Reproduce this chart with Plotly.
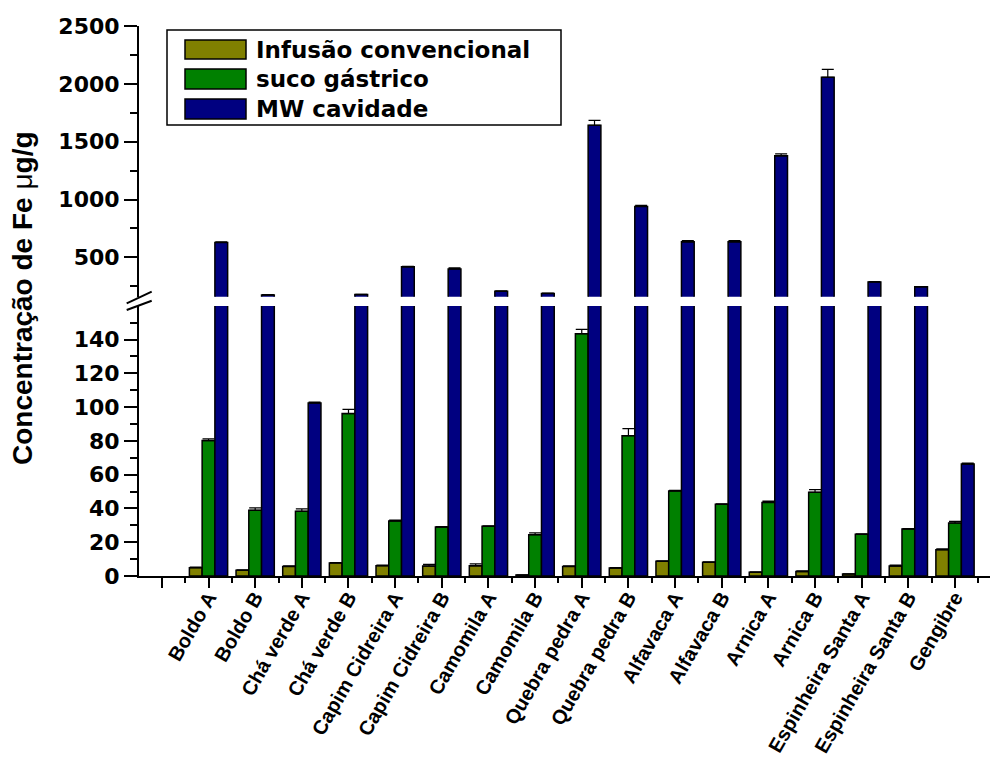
import plotly.graph_objects as go

# Iron concentration per sample, three extraction procedures
categories = ["Boldo A", "Boldo B", "Chá verde A", "Chá verde B", "Capim Cidreira A",
              "Capim Cidreira B", "Camomila A", "Camomila B", "Quebra pedra A",
              "Quebra pedra B", "Alfavaca A", "Alfavaca B", "Arnica A", "Arnica B",
              "Espinheira Santa A", "Espinheira Santa B", "Gengibre"]

infusao = [4.9, 3.4, 5.7, 7.7, 6.1, 5.9, 6.0, 0.6, 5.7, 4.7, 8.7, 8.1, 2.2, 2.6, 1.2, 5.9, 15.6]
infusao_err = [0.3, 0.3, 0.3, 0.3, 0.3, 1.0, 1.2, 0.1, 0.3, 0.3, 0.3, 0.3, 0.3, 0.5, 0.1, 0.5, 0.5]

suco = [80.2, 38.9, 38.3, 96.2, 32.6, 29.0, 29.4, 24.5, 143.5, 83.1, 50.4, 42.5, 43.6, 49.6, 24.7, 27.8, 31.4]
suco_err = [1.0, 1.5, 1.5, 2.5, 0.5, 0.3, 0.3, 1.0, 2.5, 4.2, 0.3, 0.3, 0.8, 1.5, 0.3, 0.3, 1.0]

mw = [629, 175, 102.5, 178, 418, 400, 208, 188, 1641, 940, 634, 634, 1378, 2056, 288, 245, 66.3]
mw_err = [5, 3, 0.5, 3, 5, 10, 3, 3, 43, 10, 10, 10, 17, 69, 3, 3, 0.5]

series_names = ["Infusão convencional", "suco gástrico", "MW cavidade"]
series_colors = ["#808000", "#008000", "#000080"]

positions = list(range(1, len(categories) + 1))
tick_positions = list(range(0, len(categories) + 1))
tick_text = [""] + categories

FONT = "DejaVu Sans"
LABEL_FONT = "Liberation Sans"

# plot area geometry (pixels)
W, H = 991, 758
ML, MR, MT, MB = 139, 1, 26, 182
PW, PH = W - ML - MR, H - MT - MB


def px(xp):
    return (xp - ML) / PW


def py(yp):
    return (H - MB - yp) / PH


fig = go.Figure()

all_series = [(infusao, infusao_err), (suco, suco_err), (mw, mw_err)]
for panel, (xa, ya) in enumerate([("x", "y"), ("x2", "y2")]):
    for i, (vals, errs) in enumerate(all_series):
        fig.add_trace(go.Bar(
            x=positions, y=vals, name=series_names[i],
            xaxis=xa, yaxis=ya, offsetgroup=str(i),
            marker=dict(color=series_colors[i], line=dict(color="black", width=1.5)),
            error_y=dict(type="data", array=errs, arrayminus=[0] * len(errs),
                         symmetric=False, color="black", thickness=1.2, width=6),
            showlegend=False,
        ))

axis_common = dict(showline=True, linecolor="black", linewidth=2, ticks="outside",
                   tickcolor="black", tickwidth=2, showgrid=False, zeroline=False,
                   automargin=False,
                   tickfont=dict(family=FONT, size=22, color="black", weight="bold"))

fig.update_layout(
    width=W, height=H,
    margin=dict(l=ML, r=MR, t=MT, b=MB),
    paper_bgcolor="white", plot_bgcolor="white",
    barmode="group", bargap=0.18, bargroupgap=0,
    showlegend=False,
    xaxis=dict(
        domain=[0, 1], range=[-0.49, 17.75], anchor="y",
        tickmode="array", tickvals=tick_positions, ticktext=tick_text,
        tickangle=-60, ticklen=10, automargin=False, ticklabelstandoff=-10,
        minor=dict(tickmode="linear", tick0=0.5, dtick=1, ticklen=5, tickwidth=2,
                   tickcolor="black", ticks="outside"),
        showline=True, linecolor="black", linewidth=2, ticks="outside",
        tickcolor="black", tickwidth=2, showgrid=False, zeroline=False,
        tickfont=dict(family=LABEL_FONT, size=20, color="black", weight="bold"),
    ),
    xaxis2=dict(domain=[0, 1], matches="x", anchor="y2", visible=False,
                range=[-0.49, 17.75]),
    yaxis=dict(
        domain=[0, py(306)], range=[0, 159.9],
        tickmode="array", tickvals=list(range(0, 141, 20)), ticklen=13,
        minor=dict(tickmode="linear", tick0=0, dtick=10, ticklen=7, tickwidth=2,
                   tickcolor="black", ticks="outside"),
        **axis_common,
    ),
    yaxis2=dict(
        domain=[py(296.7), 1], range=[160, 2500], anchor="x2",
        tickmode="array", tickvals=[500, 1000, 1500, 2000, 2500], ticklen=13,
        minor=dict(tickmode="linear", tick0=0, dtick=250, ticklen=7, tickwidth=2,
                   tickcolor="black", ticks="outside"),
        **axis_common,
    ),
)

shapes = []
# axis break marks
for (x0, y0, x1, y1) in [(126.7, 303.3, 151.7, 291.7), (126.7, 310.0, 151.7, 300.7)]:
    shapes.append(dict(type="line", xref="paper", yref="paper",
                       x0=px(x0), y0=py(y0), x1=px(x1), y1=py(y1),
                       line=dict(color="black", width=2)))

# legend box with swatches
shapes.append(dict(type="rect", xref="paper", yref="paper",
                   x0=px(167), x1=px(561), y0=py(125), y1=py(30),
                   line=dict(color="black", width=1.5), fillcolor="white", layer="above"))
annotations = []
swatch_rows = [(40, 59), (69, 89), (99, 119)]
for i, (top, bot) in enumerate(swatch_rows):
    shapes.append(dict(type="rect", xref="paper", yref="paper",
                       x0=px(185), x1=px(246), y0=py(bot), y1=py(top),
                       line=dict(color="black", width=1.5),
                       fillcolor=series_colors[i], layer="above"))
    annotations.append(dict(xref="paper", yref="paper", x=px(254), y=py((top + bot) / 2),
                            xanchor="left", yanchor="middle", showarrow=False,
                            text="<b>" + series_names[i] + "</b>",
                            font=dict(family=FONT, size=23, color="black")))

# y-axis title
annotations.append(dict(xref="paper", yref="paper", x=px(22), y=py(298),
                        xanchor="center", yanchor="middle", showarrow=False,
                        textangle=-90,
                        text="<b>Concentração de Fe </b>μ<b>g/g</b>",
                        font=dict(family=LABEL_FONT, size=28, color="black")))

fig.update_layout(shapes=shapes, annotations=annotations)

fig.write_html("out.html")
